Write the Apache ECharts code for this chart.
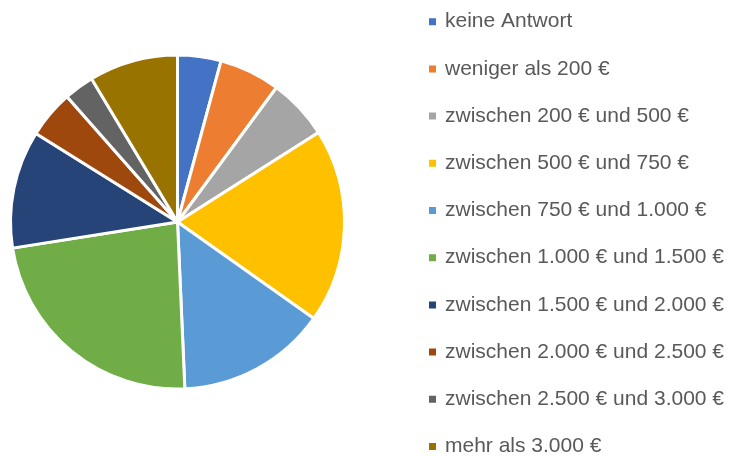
<!DOCTYPE html>
<html>
<head>
<meta charset="utf-8">
<script src="https://cdn.jsdelivr.net/npm/echarts@6/dist/echarts.min.js"></script>
<style>
  html, body { margin: 0; padding: 0; background: #fff; }
  #pie { width: 736px; height: 456px; }
</style>
</head>
<body>
<div id="pie"></div>
<script>
// Kategorien und Anteile (in %, aus dem Bild geschätzt)
var categories = [
  "keine Antwort",
  "weniger als 200 €",
  "zwischen 200 € und 500 €",
  "zwischen 500 € und 750 €",
  "zwischen 750 € und 1.000 €",
  "zwischen 1.000 € und 1.500 €",
  "zwischen 1.500 € und 2.000 €",
  "zwischen 2.000 € und 2.500 €",
  "zwischen 2.500 € und 3.000 €",
  "mehr als 3.000 €"
];
var shares = [4.2, 5.9, 5.9, 18.8, 14.5, 23.2, 11.4, 4.6, 2.9, 8.6];
var colors = ["#4472C4", "#ED7D31", "#A5A5A5", "#FFC000", "#5B9BD5",
              "#70AD47", "#264478", "#9E480E", "#636363", "#997300"];

var pieData = [];
for (var i = 0; i < categories.length; i++) {
  pieData.push({ name: categories[i], value: shares[i] });
}

var myChart = echarts.init(document.getElementById("pie"));
var option = {
  color: colors,
  animation: false,
  legend: {
    orient: "vertical",
    left: 427,
    top: 11.2,
    height: 470,
    padding: 0,
    icon: "rect",
    itemWidth: 9,
    itemHeight: 9,
    itemGap: 26.2,
    textStyle: {
      color: "#595959",
      fontSize: 21,
      padding: [0, 0, 0, 3],
      fontFamily: "Liberation Sans"
    }
  },
  series: [
    {
      type: "pie",
      center: [177.5, 222],
      radius: 167,
      startAngle: 90,
      clockwise: true,
      label: { show: false },
      labelLine: { show: false },
      itemStyle: {
        borderColor: "#fff",
        borderWidth: 3
      },
      data: pieData
    }
  ]
};
myChart.setOption(option);
</script>
</body>
</html>
